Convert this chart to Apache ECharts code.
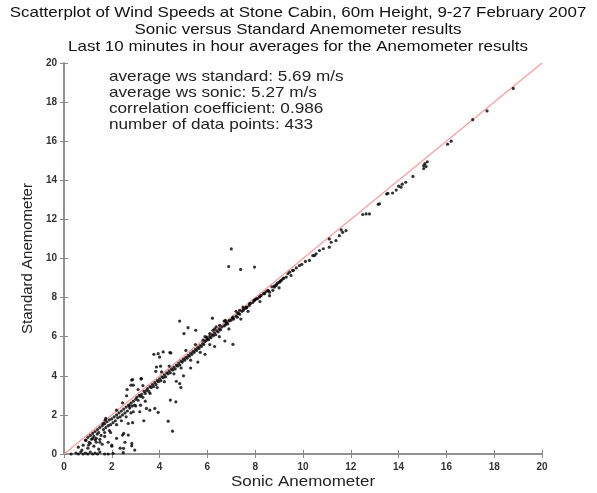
<!DOCTYPE html>
<html>
<head>
<meta charset="utf-8">
<script src="https://cdn.jsdelivr.net/npm/echarts@6/dist/echarts.min.js"></script>
<style>
html, body { margin: 0; padding: 0; background: #fff; }
#chart { width: 597px; height: 493px; }
</style>
</head>
<body>
<div id="chart"></div>
<script>
// titles and annotation
const titleLines = [
  'Scatterplot of Wind Speeds at Stone Cabin, 60m Height, 9-27 February 2007',
  'Sonic versus Standard Anemometer results',
  'Last 10 minutes in hour averages for the Anemometer results'
]
const statLines = [
  'average ws standard: 5.69 m/s',
  'average ws sonic: 5.27 m/s',
  'correlation coefficient: 0.986',
  'number of data points: 433'
]
const xName = 'Sonic Anemometer'
const yName = 'Standard Anemometer'
const axisMin = 0
const axisMax = 20
const tickStep = 2

// [sonic, standard] pairs
const calmPoints = [
  [0.3,0.0],[0.5,0.05],[0.6,0.0],[0.7,0.1],[0.8,0.0],[0.9,0.05],[1.0,0.0],[1.1,0.1],[1.2,0.0],
  [1.3,0.05],[1.4,0.0],[1.5,0.1],[1.7,0.0],[1.85,0.0],[2.05,0.03],[2.48,0.07],
  [0.6,0.35],[0.75,0.2],[0.8,0.45],[0.9,0.7],[1.0,0.3],[1.03,0.46],[1.1,0.55],[1.2,0.8],
  [1.25,0.4],[1.31,0.71],[1.35,0.6],[1.39,1.02],[1.45,0.25],[1.5,0.75],[1.6,0.5],[1.7,0.9],
  [1.85,0.6],[1.95,1.1],[2.0,0.4],[2.0,0.46],[2.2,0.8],[2.35,0.3],[2.49,0.29],[2.55,0.6],
  [1.5,0.6],[1.7,1.1],[1.9,1.2],[2.2,1.5],[2.4,1.7]
]
const bandPoints = [
  [1.0,0.85],[1.05,0.6],[1.1,0.95],[1.15,0.75],[1.2,1.05],[1.25,0.9],[1.3,1.15],[1.35,0.8],
  [1.4,1.25],[1.45,1.1],[1.5,1.35],[1.55,0.95],[1.6,1.45],[1.64,1.56],[1.65,1.25],[1.7,1.55],
  [1.72,1.73],[1.75,1.35],[1.8,1.65],[1.85,1.45],[1.9,1.75],[1.95,1.5],[2.0,1.8],[2.05,1.6],
  [2.1,1.9],[2.15,1.7],[2.2,2.0],[2.2,2.24],[2.25,1.85],[2.3,2.1],[2.35,1.9],[2.4,2.2],
  [2.45,2.0],[2.45,2.62],[2.5,2.3],[2.55,2.1],[2.6,2.4],[2.6,1.9],[2.65,2.2],[2.7,2.5],
  [2.75,2.35],[2.8,2.6],[2.8,2.1],[2.85,2.45],[2.9,2.7],[2.95,2.5],[3.0,2.8],
  [3.05,2.9],[3.1,2.75],[3.1,3.3],[3.15,3.0],[3.2,2.95],[3.2,2.5],[3.25,3.05],[3.3,2.9],
  [3.3,3.5],[3.35,3.2],[3.4,3.1],[3.4,2.7],[3.45,3.25],[3.5,3.35],[3.55,3.2],[3.6,3.45],
  [3.6,3.1],[3.65,3.4],[3.7,3.55],[3.75,3.45],[3.8,3.65],[3.85,3.55],[3.9,3.75],[3.9,3.4],
  [3.95,3.7],[4.0,3.85],[4.05,3.75],[4.1,3.95],[4.15,3.9],[4.2,4.05],[4.2,3.7],[4.25,3.95],
  [4.3,4.15],[4.35,4.1],[4.4,4.25],[4.4,4.5],[4.45,4.15],[4.5,4.35],[4.55,4.3],[4.6,4.45],
  [4.6,4.1],[4.65,4.35],[4.7,4.55],[4.75,4.5],[4.8,4.65],[4.85,4.55],[4.9,4.75],[4.9,4.4],
  [4.95,4.7],[5.0,4.85],
  [5.05,4.8],[5.1,4.95],[5.1,5.3],[5.15,4.9],[5.2,5.05],[5.25,5.0],[5.3,5.15],[5.3,4.8],
  [5.35,5.1],[5.4,5.25],[5.45,5.2],[5.5,5.35],[5.5,5.6],[5.55,5.3],[5.6,5.45],[5.65,5.4],
  [5.7,5.55],[5.7,5.2],[5.75,5.5],[5.8,5.65],[5.82,5.82],[5.85,5.6],[5.9,5.75],[5.9,6.0],
  [5.95,5.8],[5.96,5.98],[6.0,5.9],[6.05,5.85],[6.1,6.0],[6.1,5.6],[6.1,6.16],[6.15,5.95],
  [6.2,6.1],[6.23,6.33],[6.25,6.05],[6.3,6.2],[6.3,6.4],[6.35,6.1],[6.37,6.5],[6.4,6.3],
  [6.45,6.25],[6.5,6.4],[6.5,6.0],[6.51,6.58],[6.55,6.35],[6.6,6.5],[6.7,6.55],[6.7,6.8],
  [6.75,6.6],[6.79,6.75],[6.8,6.7],[6.85,6.65],[6.9,6.8],[6.9,6.4],[6.93,6.84],[7.0,6.85],
  [7.05,6.95],[7.07,7.0],[7.1,6.9],[7.2,7.05],[7.2,7.3],[7.25,7.0],[7.28,7.18],[7.3,7.2],
  [7.35,7.15],[7.35,7.35],[7.4,6.9],[7.45,7.3],[7.49,7.52],[7.5,7.35],[7.6,7.45],[7.63,7.52],
  [7.65,7.5],[7.7,7.3],[7.75,7.6],[7.77,7.69],[7.8,7.7],[7.9,7.75],[7.95,7.85],[7.97,7.86],
  [8.0,7.9],[8.05,7.94],
  [8.1,7.95],[8.18,8.03],[8.2,8.05],[8.2,7.8],[8.25,8.11],[8.35,8.2],[8.39,8.2],[8.45,8.3],
  [8.53,8.37],[8.55,8.35],[8.6,8.28],[8.6,8.1],[8.7,8.55],[8.74,8.37],[8.8,8.6],[8.81,8.54],
  [8.88,8.62],[8.9,8.7],[8.95,8.75],[9.0,8.5],[9.02,8.79],[9.05,8.85],[9.09,8.88],[9.16,8.96],
  [9.2,9.0],[9.3,9.05],[9.37,9.22],[9.44,9.3],[9.5,9.13],[9.57,9.39],[9.6,9.4],[9.72,9.52],
  [9.85,9.64],[9.95,9.7],[10.1,9.85],[10.27,9.9],[10.41,10.15],[10.48,10.15],[10.55,10.24],
  [10.69,10.41],[10.85,10.5],[11.1,10.58],[11.1,11.0],[11.18,10.83],[11.38,10.92],
  [11.52,11.17],[11.6,11.46],[11.66,11.34],[11.8,11.43]
]
const highPoints = [
  [12.5,12.25],[12.64,12.28],[12.78,12.28],[13.15,12.77],[13.2,12.8],[13.5,13.3],[13.55,13.33],
  [13.75,13.35],[13.9,13.5],[14.0,13.7],[14.1,13.65],[14.15,13.8],[14.3,13.9],[14.6,14.2],
  [15.05,14.6],[15.05,14.75],[15.1,14.85],[15.2,14.95],[15.15,14.7],[16.05,15.85],[16.2,16.0],
  [17.1,17.1],[17.7,17.55],[18.8,18.7]
]
const aboveLine = [
  [0.92,0.71],[1.75,1.82],[2.62,2.98],[2.64,3.3],[2.8,3.52],[2.83,3.78],[2.87,3.81],[2.9,3.52],
  [3.22,3.84],[3.24,3.86],[3.76,5.1],[3.84,4.23],[3.87,4.45],[3.94,5.13],[4.0,4.96],[4.04,4.49],
  [4.08,4.2],[4.15,5.22],[4.43,5.19],[4.47,5.17],[4.84,6.8],[5.02,6.16],[5.19,6.46],[5.51,6.33],
  [6.21,6.95],[6.75,6.84],[7.52,7.44],[6.89,9.59],[7.0,10.49],[7.39,9.44],[7.97,9.56]
]
const belowLine = [
  [2.45,0.97],[2.5,1.05],[2.69,0.97],[2.69,1.56],[2.73,2.46],[2.83,0.42],[2.84,0.54],[2.87,1.6],
  [2.9,2.16],[2.96,0.2],[3.0,2.46],[3.17,2.16],[3.34,1.7],[3.45,2.33],[3.59,2.24],[3.8,2.33],
  [3.94,2.13],[4.36,1.68],[4.45,2.76],[4.54,1.17],[4.68,2.67],[4.7,3.72],[4.84,3.6],[4.89,3.4],
  [5.0,4.0],[5.3,4.4],[5.6,4.7],[5.9,5.1],[6.3,5.5],[6.73,5.78],[7.07,5.61]
]

const allPoints = calmPoints.concat(bandPoints, highPoints, aboveLine, belowLine)

const chart = echarts.init(document.getElementById('chart'))

// the source picture is stretched sideways a little, so text gets a scaleX
const stretch = 1.13
const font = 'Liberation Sans'

const frameAxis = {
  min: axisMin,
  max: axisMax,
  interval: tickStep,
  axisLine: { show: true, lineStyle: { color: '#8a8a8a', width: 1.5 } },
  axisTick: { show: true, inside: true, length: 4, lineStyle: { color: '#8a8a8a' } },
  splitLine: { show: false }
}
const tickLabel = {
  fontFamily: font,
  fontSize: 10,
  fontWeight: 'bold',
  color: '#333'
}

const texts = []
titleLines.forEach((t, i) => {
  texts.push({
    type: 'text', x: 298, y: 13 + i * 17, scaleX: stretch,
    style: { text: t, fontSize: 15, fontFamily: font, fill: '#111', textAlign: 'center', textVerticalAlign: 'middle' }
  })
})
statLines.forEach((t, i) => {
  texts.push({
    type: 'text', x: 109, y: 77 + i * 16, scaleX: 1.2,
    style: { text: t, fontSize: 14.3, fontFamily: font, fill: '#222', textAlign: 'left', textVerticalAlign: 'middle' }
  })
})
texts.push({
  type: 'text', x: 303, y: 482, scaleX: stretch,
  style: { text: xName, fontSize: 15, fontFamily: font, fill: '#222', textAlign: 'center', textVerticalAlign: 'middle' }
})

chart.setOption({
  animation: false,
  backgroundColor: '#fff',
  textStyle: { fontFamily: font },
  grid: { left: 64, right: 55, top: 63, bottom: 39 },
  xAxis: [
    Object.assign({}, frameAxis, {
      type: 'value', position: 'bottom',
      axisLabel: Object.assign({ margin: 8 }, tickLabel)
    }),
    Object.assign({}, frameAxis, { type: 'value', position: 'top', axisLabel: { show: false } })
  ],
  yAxis: [
    Object.assign({}, frameAxis, {
      type: 'value', position: 'left',
      name: yName, nameLocation: 'middle', nameGap: 18,
      nameTextStyle: { fontSize: 15, color: '#222' },
      axisLabel: Object.assign({ margin: 7 }, tickLabel)
    }),
    Object.assign({}, frameAxis, { type: 'value', position: 'right', axisLabel: { show: false } })
  ],
  graphic: texts,
  series: [
    {
      type: 'line',
      data: [[axisMin, axisMin], [axisMax, axisMax]],
      symbol: 'none',
      lineStyle: { color: '#ff9a9a', width: 1.2 },
      z: 1
    },
    {
      type: 'scatter',
      data: allPoints,
      symbol: 'circle',
      symbolSize: 3.2,
      itemStyle: { color: '#000' },
      z: 2
    }
  ]
})
</script>
</body>
</html>
